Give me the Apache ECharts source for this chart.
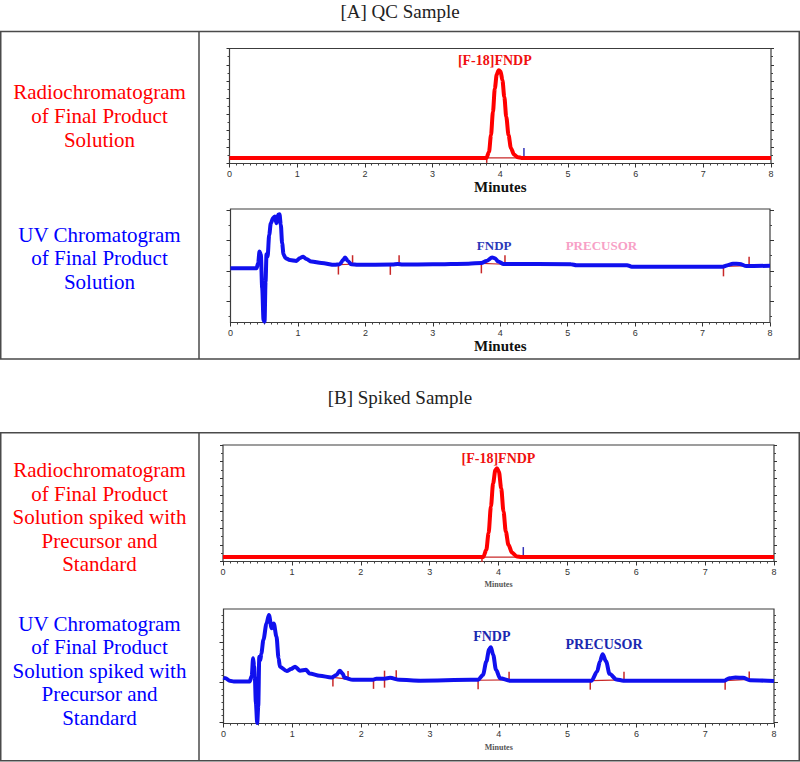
<!DOCTYPE html>
<html><head><meta charset="utf-8">
<script src="https://cdn.jsdelivr.net/npm/echarts@6/dist/echarts.min.js"></script>
<style>html,body{margin:0;padding:0;background:#fff}#c{width:800px;height:762px}</style>
</head><body><div id="c"></div>
<script>
// ---------------- data ----------------
const minuteTicks = [0, 1, 2, 3, 4, 5, 6, 7, 8];

// [A] QC sample – radiochromatogram (minutes, counts)
const radioA = [[0, 5.1], [3.796, 5.1], [3.834, 10.6], [3.863, 25.8], [3.892, 47.1], [3.920, 68.5], [3.948, 81.3], [3.976, 85.2], [4.004, 84.3], [4.032, 76.1], [4.060, 60.8], [4.089, 42.5], [4.123, 25.8], [4.157, 14.2], [4.202, 8.2], [4.258, 5.8], [4.315, 5.1], [8, 5.1]];

// [A] QC sample – UV chromatogram (minutes, absorbance units)
const uvA = [[0, 0.09], [0.386, 0.09], [0.41, 0.25], [0.43, 0.64], [0.45, 0.53], [0.47, -0.57], [0.49, -1.62], [0.505, -1.67], [0.52, -0.35], [0.534, 0.55], [0.55, 0.47], [0.574, 1.19], [0.598, 1.57], [0.632, 1.74], [0.657, 1.79], [0.682, 1.57], [0.706, 1.85], [0.726, 1.87], [0.746, 1.52], [0.766, 0.91], [0.786, 0.55], [0.815, 0.42], [0.879, 0.36], [0.978, 0.33], [1.027, 0.42], [1.076, 0.47], [1.126, 0.39], [1.20, 0.31], [1.35, 0.26], [1.546, 0.20], [1.62, 0.22], [1.67, 0.36], [1.70, 0.44], [1.74, 0.33], [1.79, 0.22], [1.89, 0.20], [2.40, 0.21], [2.48, 0.23], [2.55, 0.21], [3.00, 0.22], [3.53, 0.24], [3.72, 0.26], [3.796, 0.33], [3.88, 0.44], [3.92, 0.42], [3.97, 0.31], [4.05, 0.23], [5.05, 0.22], [5.13, 0.19], [5.88, 0.19], [5.95, 0.14], [7.30, 0.14], [7.36, 0.18], [7.45, 0.24], [7.55, 0.23], [7.65, 0.16], [8.0, 0.17]];

// [B] spiked sample – radiochromatogram
const radioB = [[0, 4.0], [3.778, 4.0], [3.823, 10.5], [3.856, 25.6], [3.890, 49.5], [3.922, 70.6], [3.955, 82.5], [3.978, 84.0], [4.006, 81.0], [4.039, 66.1], [4.073, 45.0], [4.106, 27.0], [4.145, 15.0], [4.195, 8.1], [4.267, 4.5], [4.334, 4.0], [8, 4.0]];

// [B] spiked sample – UV chromatogram
const uvB = [[0, 0.12], [0.03, 0.10], [0.09, 0.04], [0.15, 0.02], [0.38, 0.02], [0.41, 0.15], [0.43, 0.60], [0.445, 0.40], [0.455, 0.14], [0.47, -0.5], [0.49, -1.02], [0.505, -0.6], [0.52, 0.64], [0.535, 0.55], [0.55, 0.72], [0.58, 1.06], [0.625, 1.47], [0.66, 1.68], [0.70, 1.35], [0.73, 1.47], [0.77, 1.14], [0.80, 0.6], [0.82, 0.39], [0.92, 0.28], [0.98, 0.33], [1.04, 0.39], [1.11, 0.29], [1.20, 0.31], [1.25, 0.22], [1.40, 0.16], [1.57, 0.12], [1.64, 0.18], [1.69, 0.29], [1.73, 0.22], [1.76, 0.11], [1.88, 0.06], [2.17, 0.06], [2.22, 0.09], [2.34, 0.09], [2.42, 0.11], [2.56, 0.06], [2.86, 0.04], [3.6, 0.06], [3.70, 0.06], [3.77, 0.18], [3.82, 0.52], [3.86, 0.82], [3.885, 0.875], [3.92, 0.68], [3.96, 0.31], [4.02, 0.10], [4.16, 0.04], [5.35, 0.04], [5.43, 0.27], [5.47, 0.52], [5.51, 0.70], [5.56, 0.52], [5.61, 0.21], [5.71, 0.07], [5.81, 0.04], [7.28, 0.04], [7.35, 0.10], [7.44, 0.12], [7.55, 0.11], [7.65, 0.05], [8, 0.03]];

// integration events: [start min, start level, end min, end level]
const radioAEvents = [[3.80, 5.1, 4.35, 5.1]];
const uvAEvents = [[1.60, 0.21, 1.81, 0.22], [2.37, 0.20, 2.50, 0.22], [3.72, 0.25, 4.07, 0.22], [7.31, 0.15, 7.69, 0.17]];
const radioBEvents = [[3.76, 4.0, 4.36, 4.0]];
const uvBEvents = [[1.59, 0.12, 1.81, 0.08], [2.18, 0.06, 2.34, 0.09], [2.34, 0.09, 2.51, 0.10], [3.70, 0.05, 4.15, 0.06], [5.33, 0.04, 5.82, 0.06], [7.29, 0.04, 7.64, 0.07]];

// peak names
const radioPeakNames = ['[F-18]FNDP'];
const uvPeakNames = ['FNDP', 'PRECUSOR'];

// y tick values
const uvAMajorTicks = [-1, 0, 1, 2];
const uvAMinorTicks = [-1.5, -0.5, 0.5, 1.5];
const uvBMajorTicks = [-1, 0, 1];
const uvBMinorTicks = [-0.833, -0.667, -0.5, -0.333, -0.167, 0.167, 0.333, 0.5, 0.667, 0.833, 1.167, 1.333, 1.5, 1.667];

// texts
const sectionTitles = ['[A] QC Sample', '[B] Spiked Sample'];
const rowTitles = [
  'Radiochromatogram\nof Final Product\nSolution',
  'UV Chromatogram\nof Final Product\nSolution',
  'Radiochromatogram\nof Final Product\nSolution spiked with\nPrecursor and\nStandard',
  'UV Chromatogram\nof Final Product\nSolution spiked with\nPrecursor and\nStandard'
];

// ---------------- chart ----------------
const RED = '#ff0000', BLUE = '#1010ee', MARK = '#c82828', TICKBLUE = '#3434b8';
const SERIF = '"Liberation Serif", "DejaVu Serif", serif';
const SANS = '"Liberation Sans", Arial, sans-serif';

const grids = [
  {left: 229.5, top: 48.5, width: 541.5, height: 115},
  {left: 230.5, top: 209, width: 539.5, height: 113.5},
  {left: 223, top: 445, width: 551, height: 116.5},
  {left: 223.5, top: 609, width: 550.5, height: 114.5}
].map(g => Object.assign(g, {show: true, borderColor: '#3c3c3c', borderWidth: 1.2, backgroundColor: '#fff'}));

const nameStyles = [
  {gap: 16, size: 15, color: '#111'},
  {gap: 15, size: 15, color: '#111'},
  {gap: 19, size: 8, color: '#555'},
  {gap: 20, size: 8, color: '#555'}
];

const xAxes = grids.map((g, i) => ({
  type: 'value', gridIndex: i, position: 'bottom', min: 0, max: 8, interval: 1,
  axisLine: {show: false, onZero: false},
  axisTick: {show: true, length: 4, lineStyle: {color: '#333'}},
  minorTick: {show: true, splitNumber: 10, length: 2, lineStyle: {color: '#444'}},
  splitLine: {show: false}, minorSplitLine: {show: false},
  axisLabel: {show: true, margin: 6, fontSize: 9, color: '#333', fontFamily: SANS,
    customValues: minuteTicks, formatter: v => String(v)},
  name: 'Minutes', nameLocation: 'middle', nameGap: nameStyles[i].gap,
  nameTextStyle: {fontFamily: SERIF, fontWeight: 'bold', fontSize: nameStyles[i].size, color: nameStyles[i].color}
}));

const yAxes = [];
function radioAxes(gi) {
  ['left', 'right'].forEach(pos => {
    yAxes.push({
      type: 'value', gridIndex: gi, position: pos, min: 0, max: 105, interval: 15,
      axisLine: {show: false, onZero: false}, axisLabel: {show: false}, splitLine: {show: false},
      axisTick: {show: true, length: 3, lineStyle: {color: '#333'}},
      minorTick: {show: true, splitNumber: 2, length: 2, lineStyle: {color: '#444'}}
    });
  });
}
function uvAxes(gi, min, max, major, minor) {
  ['left', 'right'].forEach(pos => {
    yAxes.push({
      type: 'value', gridIndex: gi, position: pos, min: min, max: max,
      axisLine: {show: false, onZero: false}, axisLabel: {show: false}, splitLine: {show: false},
      axisTick: {show: true, length: 4, customValues: major, lineStyle: {color: '#333'}}
    });
    yAxes.push({
      type: 'value', gridIndex: gi, position: pos, min: min, max: max,
      axisLine: {show: false, onZero: false}, axisLabel: {show: false}, splitLine: {show: false},
      axisTick: {show: true, length: 2, customValues: minor, lineStyle: {color: '#444'}}
    });
  });
}
radioAxes(0);                                   // y 0,1
uvAxes(1, -1.7, 2.04, uvAMajorTicks, uvAMinorTicks); // y 2..5
radioAxes(2);                                   // y 6,7
uvAxes(3, -1.03, 1.83, uvBMajorTicks, uvBMinorTicks); // y 8..11
const yIdx = [0, 2, 6, 8];

function trace(gi, data, color) {
  return {type: 'line', xAxisIndex: gi, yAxisIndex: yIdx[gi], data: data, symbol: 'none',
    smooth: 0.3, smoothMonotone: 'x', lineStyle: {color: color, width: 4}, z: 3, silent: true, animation: false};
}
function events(gi, data, startColor, endColor, downLen, upLen) {
  return {type: 'custom', xAxisIndex: gi, yAxisIndex: yIdx[gi], data: data, z: 2, silent: true, animation: false,
    encode: {x: [0, 2], y: [1, 3]},
    renderItem: (params, api) => {
      const p0 = api.coord([api.value(0), api.value(1)]);
      const p1 = api.coord([api.value(2), api.value(3)]);
      return {type: 'group', children: [
        {type: 'line', shape: {x1: p0[0], y1: p0[1], x2: p1[0], y2: p1[1]}, style: {stroke: MARK, lineWidth: 1.2}},
        {type: 'line', shape: {x1: p0[0], y1: p0[1], x2: p0[0], y2: p0[1] + downLen}, style: {stroke: startColor, lineWidth: 1.5}},
        {type: 'line', shape: {x1: p1[0], y1: p1[1], x2: p1[0], y2: p1[1] - upLen}, style: {stroke: endColor, lineWidth: 1.5}}
      ]};
    }};
}
function labels(gi, items) {
  return {type: 'scatter', xAxisIndex: gi, yAxisIndex: yIdx[gi], symbolSize: 1, silent: true, animation: false, z: 5,
    itemStyle: {color: '#fff', opacity: 1},
    label: {show: true, position: 'inside', formatter: p => p.value[2], fontFamily: SERIF, fontWeight: 'bold',
      textBorderWidth: 0, textBorderColor: 'transparent', opacity: 1},
    data: items.map(it => ({value: [it.x, it.y, it.name], label: {color: it.color, fontSize: it.size}}))};
}

const series = [
  events(0, radioAEvents, MARK, TICKBLUE, 5, 10),
  trace(0, radioA, RED),
  labels(0, [{x: 3.92, y: 94.3, name: radioPeakNames[0], color: '#f01010', size: 14}]),
  events(1, uvAEvents, MARK, MARK, 10, 9),
  trace(1, uvA, BLUE),
  labels(1, [{x: 3.91, y: 0.835, name: uvPeakNames[0], color: '#2a38b8', size: 13},
             {x: 5.50, y: 0.825, name: uvPeakNames[1], color: '#f7a0c6', size: 13}]),
  events(2, radioBEvents, MARK, TICKBLUE, 5, 10),
  trace(2, radioB, RED),
  labels(2, [{x: 4.0, y: 93.1, name: radioPeakNames[0], color: '#f01010', size: 14}]),
  events(3, uvBEvents, MARK, MARK, 9, 8),
  trace(3, uvB, BLUE),
  labels(3, [{x: 3.90, y: 1.14, name: uvPeakNames[0], color: '#1a28b0', size: 14},
             {x: 5.53, y: 0.95, name: uvPeakNames[1], color: '#1a28b0', size: 14}])
];

const tableStroke = {fill: 'none', stroke: '#4a4a4a', lineWidth: 1.5};
const graphic = [
  {type: 'rect', shape: {x: 0.75, y: 31.5, width: 798.5, height: 327.5}, style: tableStroke, z: -10},
  {type: 'line', shape: {x1: 199, y1: 31.5, x2: 199, y2: 359}, style: {stroke: '#4a4a4a', lineWidth: 1.5}, z: -10},
  {type: 'rect', shape: {x: 0.75, y: 432.7, width: 798.5, height: 328}, style: tableStroke, z: -10},
  {type: 'line', shape: {x1: 199, y1: 432.7, x2: 199, y2: 760.7}, style: {stroke: '#4a4a4a', lineWidth: 1.5}, z: -10},
  {type: 'text', x: 400, y: 11, style: {text: sectionTitles[0], align: 'center', verticalAlign: 'middle', font: '19px ' + SERIF, fill: '#222'}},
  {type: 'text', x: 400, y: 397, style: {text: sectionTitles[1], align: 'center', verticalAlign: 'middle', font: '19px ' + SERIF, fill: '#222'}}
];
const rowCenters = [116, 258.3, 517.3, 670.7];
const rowColors = ['#ff0000', '#0000ff', '#ff0000', '#0000ff'];
rowTitles.forEach((t, i) => graphic.push({type: 'text', x: 99.5, y: rowCenters[i],
  style: {text: t, align: 'center', verticalAlign: 'middle', font: '21px ' + SERIF, lineHeight: 23.6, fill: rowColors[i]}}));

const chart = echarts.init(document.getElementById('c'), null, {renderer: 'svg'});
chart.setOption({
  animation: false, backgroundColor: '#fff',
  grid: grids, xAxis: xAxes, yAxis: yAxes, series: series, graphic: graphic
});
</script></body></html>
